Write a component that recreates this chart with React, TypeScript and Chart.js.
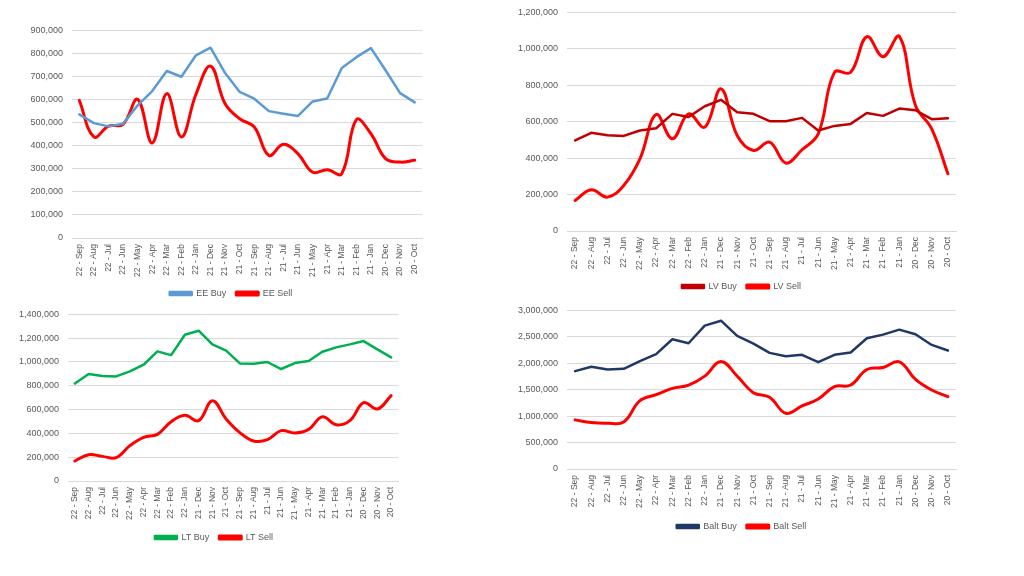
import React, { useEffect, useRef } from "react";
import { Chart, registerables } from "chart.js";

Chart.register(...registerables);

const categories = [
  "22 - Sep", "22 - Aug", "22 - Jul", "22 - Jun", "22 - May", "22 - Apr",
  "22 - Mar", "22 - Feb", "22 - Jan", "21 - Dec", "21 - Nov", "21 - Oct",
  "21 - Sep", "21 - Aug", "21 - Jul", "21 - Jun", "21 - May", "21 - Apr",
  "21 - Mar", "21 - Feb", "21 - Jan", "20 - Dec", "20 - Nov", "20 - Oct",
];

const eeBuy = [536000, 498000, 484000, 495000, 575000, 637000, 724000, 699000, 792000, 825000, 715000, 633000, 604000, 550000, 539000, 529000, 592000, 605000, 737000, 784000, 823000, 727000, 628000, 588000];
const eeSell = [597000, 438000, 485000, 493000, 601000, 412000, 626000, 438000, 623000, 745000, 582000, 517000, 481000, 358000, 406000, 365000, 285000, 296000, 279000, 513000, 452000, 344000, 329000, 337000];

const lvBuy = [497000, 539000, 526000, 522000, 552000, 564000, 643000, 626000, 685000, 720000, 652000, 643000, 603000, 603000, 621000, 552000, 577000, 588000, 648000, 632000, 672000, 663000, 614000, 619000];
const lvSell = [168000, 226000, 186000, 250000, 396000, 639000, 506000, 643000, 570000, 780000, 524000, 442000, 488000, 373000, 446000, 533000, 871000, 871000, 1067000, 957000, 1068000, 689000, 561000, 314000];

const ltBuy = [820000, 899000, 882000, 879000, 921000, 977000, 1089000, 1058000, 1229000, 1263000, 1148000, 1095000, 988000, 986000, 1000000, 941000, 991000, 1008000, 1086000, 1123000, 1148000, 1176000, 1106000, 1039000];
const ltSell = [168000, 221000, 207000, 196000, 297000, 367000, 392000, 498000, 552000, 507000, 675000, 521000, 406000, 336000, 347000, 423000, 403000, 434000, 540000, 473000, 507000, 658000, 605000, 717000];

const baltBuy = [1851000, 1933000, 1883000, 1895000, 2040000, 2172000, 2454000, 2379000, 2711000, 2805000, 2517000, 2372000, 2197000, 2134000, 2159000, 2021000, 2159000, 2203000, 2473000, 2542000, 2636000, 2548000, 2347000, 2241000];
const baltSell = [929000, 879000, 866000, 891000, 1293000, 1406000, 1525000, 1588000, 1757000, 2034000, 1757000, 1444000, 1356000, 1054000, 1192000, 1324000, 1557000, 1588000, 1883000, 1921000, 2027000, 1695000, 1494000, 1368000];

const FONT = "'Liberation Sans', Arial, sans-serif";
const TICK_COLOR = "#595959";
const GRID_COLOR = "#d9d9d9";

type Series = { label: string; data: number[]; color: string; width: number; smooth: boolean };

type PanelProps = {
  left: number; top: number; width: number; height: number;
  padRight: number; yWidth: number; xHeight: number; legendShift: number;
  yMax: number; yStep: number; series: Series[];
};

function Panel(p: PanelProps) {
  const ref = useRef<HTMLCanvasElement | null>(null);
  useEffect(() => {
    if (!ref.current) return;
    const shiftLegend = {
      id: "shiftLegend",
      afterLayout(chart: any) {
        const lg = chart.legend;
        if (lg) {
          lg.left += p.legendShift;
          lg.right += p.legendShift;
        }
      },
    };
    const chart = new Chart(ref.current, {
      type: "line",
      data: {
        labels: categories,
        datasets: p.series.map((s) => ({
          label: s.label,
          data: s.data,
          borderColor: s.color,
          backgroundColor: s.color,
          borderWidth: s.width,
          pointRadius: 0,
          pointHoverRadius: 0,
          tension: s.smooth ? 0.4 : 0,
          fill: false,
          borderCapStyle: "round",
          borderJoinStyle: "round",
        })),
      },
      plugins: [shiftLegend],
      options: {
        responsive: false,
        animation: false,
        devicePixelRatio: 1,
        layout: { padding: { left: 0, right: p.padRight, top: 10, bottom: 0 } },
        plugins: {
          legend: {
            position: "bottom",
            labels: {
              boxWidth: 22,
              boxHeight: 3,
              padding: 10,
              color: TICK_COLOR,
              font: { family: FONT, size: 9 },
            },
          },
          tooltip: { enabled: false },
        },
        scales: {
          x: {
            offset: true,
            grid: { display: false, drawTicks: false },
            border: { display: true, color: GRID_COLOR, width: 1 },
            ticks: {
              autoSkip: false,
              maxRotation: 90,
              minRotation: 90,
              padding: 6,
              color: TICK_COLOR,
              font: { family: FONT, size: 8.5 },
            },
            afterFit: (scale: any) => { scale.height = p.xHeight; },
          },
          y: {
            min: 0,
            max: p.yMax,
            grid: { color: GRID_COLOR, lineWidth: 1, drawTicks: false },
            border: { display: false },
            ticks: {
              stepSize: p.yStep,
              padding: 9,
              color: TICK_COLOR,
              font: { family: FONT, size: 9 },
              callback: (v: any) => Number(v).toLocaleString("en-US"),
            },
            afterFit: (scale: any) => { scale.width = p.yWidth; },
          },
        },
      },
    });
    return () => chart.destroy();
  }, []);
  return (
    <canvas
      ref={ref}
      width={p.width}
      height={p.height}
      style={{ position: "absolute", left: p.left, top: p.top, width: p.width, height: p.height }}
    />
  );
}

export default function App() {
  return (
    <div style={{ position: "fixed", left: 0, top: 0, width: 1024, height: 576, background: "#ffffff", overflow: "hidden" }}>
      <Panel left={0} top={16} width={432} height={292} padRight={10} yWidth={72} xHeight={41} legendShift={20}
        yMax={900000} yStep={100000}
        series={[
          { label: "EE Buy", data: eeBuy, color: "#5b9bd5", width: 2.5, smooth: false },
          { label: "EE Sell", data: eeSell, color: "#ff0000", width: 3, smooth: true },
        ]} />
      <Panel left={505} top={-2} width={461} height={303} padRight={10} yWidth={62} xHeight={41} legendShift={11}
        yMax={1200000} yStep={200000}
        series={[
          { label: "LV Buy", data: lvBuy, color: "#c00000", width: 2.5, smooth: false },
          { label: "LV Sell", data: lvSell, color: "#ff0000", width: 3, smooth: true },
        ]} />
      <Panel left={0} top={300} width={408} height={252} padRight={10} yWidth={68} xHeight={42} legendShift={15}
        yMax={1400000} yStep={200000}
        series={[
          { label: "LT Buy", data: ltBuy, color: "#00b050", width: 2.5, smooth: false },
          { label: "LT Sell", data: ltSell, color: "#ff0000", width: 3, smooth: true },
        ]} />
      <Panel left={505} top={296} width={461} height={245} padRight={10} yWidth={62} xHeight={43} legendShift={11}
        yMax={3000000} yStep={500000}
        series={[
          { label: "Balt Buy", data: baltBuy, color: "#203864", width: 2.5, smooth: false },
          { label: "Balt Sell", data: baltSell, color: "#ff0000", width: 3, smooth: true },
        ]} />
    </div>
  );
}
